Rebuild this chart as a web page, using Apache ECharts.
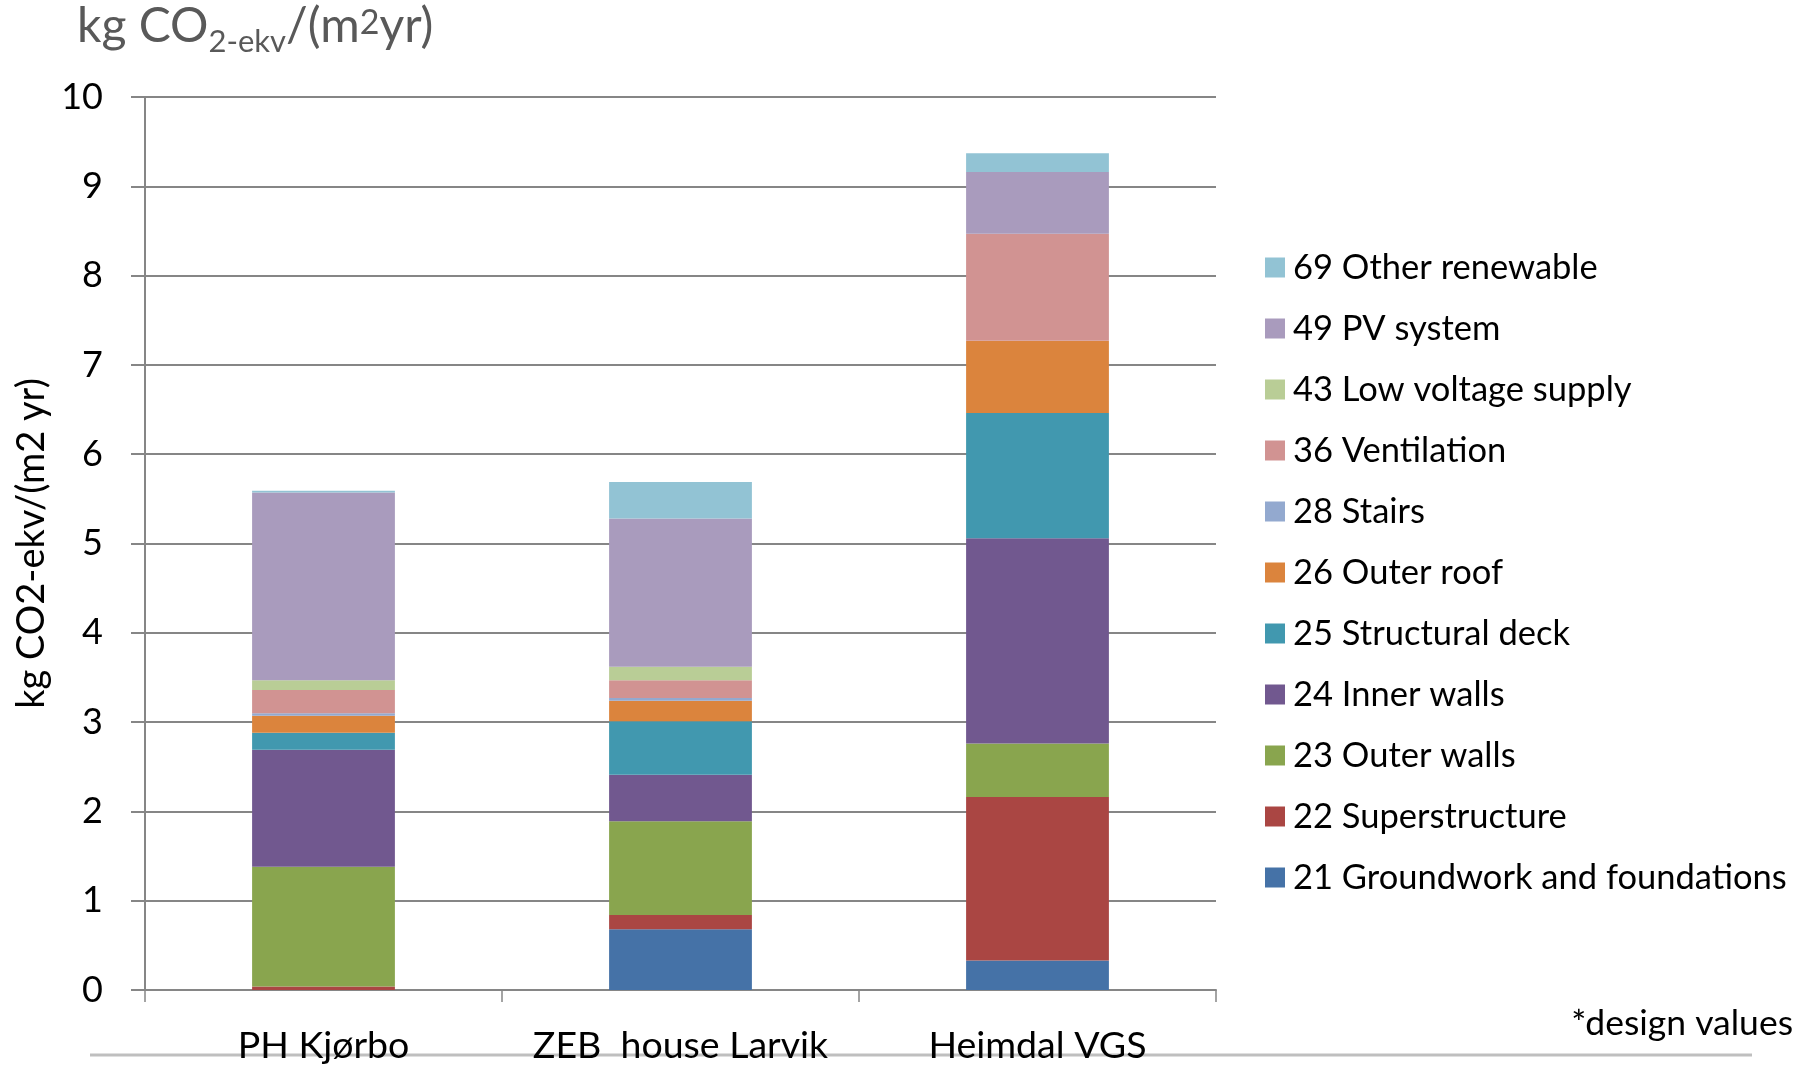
<!DOCTYPE html>
<html>
<head>
<meta charset="utf-8">
<title>Embodied emissions by building part</title>
<script src="https://cdn.jsdelivr.net/npm/echarts@6/dist/echarts.min.js"></script>
<style>
  html, body { margin: 0; padding: 0; background: #fff; }
  #chart { width: 1806px; height: 1067px; }
</style>
</head>
<body>
<div id="chart"></div>
<script>
// buildings on the x axis
const categories = ['PH Kjørbo', 'ZEB  house Larvik', 'Heimdal VGS'];

// kg CO2-ekv/(m2 yr) per building part
const groundwork = [0, 0.68, 0.33];
const superstructure = [0.04, 0.16, 1.83];
const outerWalls = [1.34, 1.05, 0.60];
const innerWalls = [1.31, 0.52, 2.30];
const structuralDeck = [0.19, 0.60, 1.40];
const outerRoof = [0.19, 0.23, 0.81];
const stairs = [0.03, 0.03, 0];
const ventilation = [0.26, 0.20, 1.20];
const lowVoltage = [0.11, 0.15, 0];
const pvSystem = [2.10, 1.66, 0.69];
const otherRenewable = [0.02, 0.41, 0.21];

const yTicks = [0, 1, 2, 3, 4, 5, 6, 7, 8, 9, 10];

// bottom of the stack first
const parts = [
    { name: '21 Groundwork and foundations', data: groundwork, color: '#4572a7' },
    { name: '22 Superstructure', data: superstructure, color: '#aa4643' },
    { name: '23 Outer walls', data: outerWalls, color: '#89a54e' },
    { name: '24 Inner walls', data: innerWalls, color: '#71588f' },
    { name: '25 Structural deck', data: structuralDeck, color: '#4198af' },
    { name: '26 Outer roof', data: outerRoof, color: '#db843d' },
    { name: '28 Stairs', data: stairs, color: '#93a9cf' },
    { name: '36 Ventilation', data: ventilation, color: '#d19392' },
    { name: '43 Low voltage supply', data: lowVoltage, color: '#b9cd96' },
    { name: '49 PV system', data: pvSystem, color: '#a99bbd' },
    { name: '69 Other renewable', data: otherRenewable, color: '#92c3d4' }
];

const gray = '#868686';
const font = 'Lato';

const chart = echarts.init(document.getElementById('chart'));

const option = {
    backgroundColor: '#fff',
    animation: false,
    textStyle: { fontFamily: font },
    title: {
        left: 77,
        top: 3,
        padding: 0,
        text: '{a|kg CO}{sub|2-ekv}{a|/(m}{sup|2}{a|yr)}',
        textStyle: {
            fontWeight: 'normal',
            rich: {
                a: { fontFamily: font, fontSize: 48, fontWeight: 'normal', color: '#595959', lineHeight: 54, verticalAlign: 'top' },
                sub: { fontFamily: font, fontSize: 31, fontWeight: 'normal', color: '#595959', lineHeight: 31, padding: [28, 0, 0, 0], verticalAlign: 'bottom' },
                sup: { fontFamily: font, fontSize: 34, fontWeight: 'normal', color: '#595959', lineHeight: 34, padding: [3, 0, 0, 0], verticalAlign: 'top' }
            }
        }
    },
    legend: {
        orient: 'vertical',
        left: 1260,
        top: 245,
        icon: 'rect',
        itemWidth: 20,
        itemHeight: 20,
        itemGap: 26,
        selectedMode: false,
        data: parts.map(p => p.name).reverse(),
        textStyle: { fontFamily: font, fontSize: 34.5, lineHeight: 34.5, color: '#000', padding: [0, 0, 0, 3] }
    },
    grid: {
        left: 145,
        right: 590,
        top: 97,
        bottom: 77,
        containLabel: false
    },
    xAxis: {
        type: 'category',
        data: categories,
        axisLine: { lineStyle: { color: gray, width: 2 } },
        axisTick: { show: true, length: 12, lineStyle: { color: gray, width: 1.5 } },
        axisLabel: { interval: 0, fontFamily: font, fontSize: 37.5, color: '#000', margin: 37 }
    },
    yAxis: {
        type: 'value',
        min: yTicks[0],
        max: yTicks[yTicks.length - 1],
        interval: 1,
        name: 'kg CO2-ekv/(m2 yr)',
        nameLocation: 'middle',
        nameGap: 93,
        nameTextStyle: { fontFamily: font, fontSize: 38, color: '#000' },
        axisLine: { show: true, lineStyle: { color: gray, width: 2 } },
        axisTick: { show: true, length: 14, lineStyle: { color: gray, width: 2 } },
        axisLabel: { fontFamily: font, fontSize: 36, color: '#000', margin: 42 },
        splitLine: { lineStyle: { color: gray, width: 2 } }
    },
    series: parts.map(p => ({
        name: p.name,
        type: 'bar',
        stack: 'total',
        barWidth: '40%',
        data: p.data,
        itemStyle: { color: p.color }
    })),
    graphic: [
        {
            type: 'text',
            right: 13,
            top: 1006,
            style: { text: '*design values', fontFamily: font, fontSize: 35.5, fill: '#000' }
        },
        {
            type: 'line',
            shape: { x1: 90, y1: 1055, x2: 1752, y2: 1055 },
            style: { stroke: '#bfbfbf', lineWidth: 3 }
        }
    ]
};

chart.setOption(option);
</script>
</body>
</html>
